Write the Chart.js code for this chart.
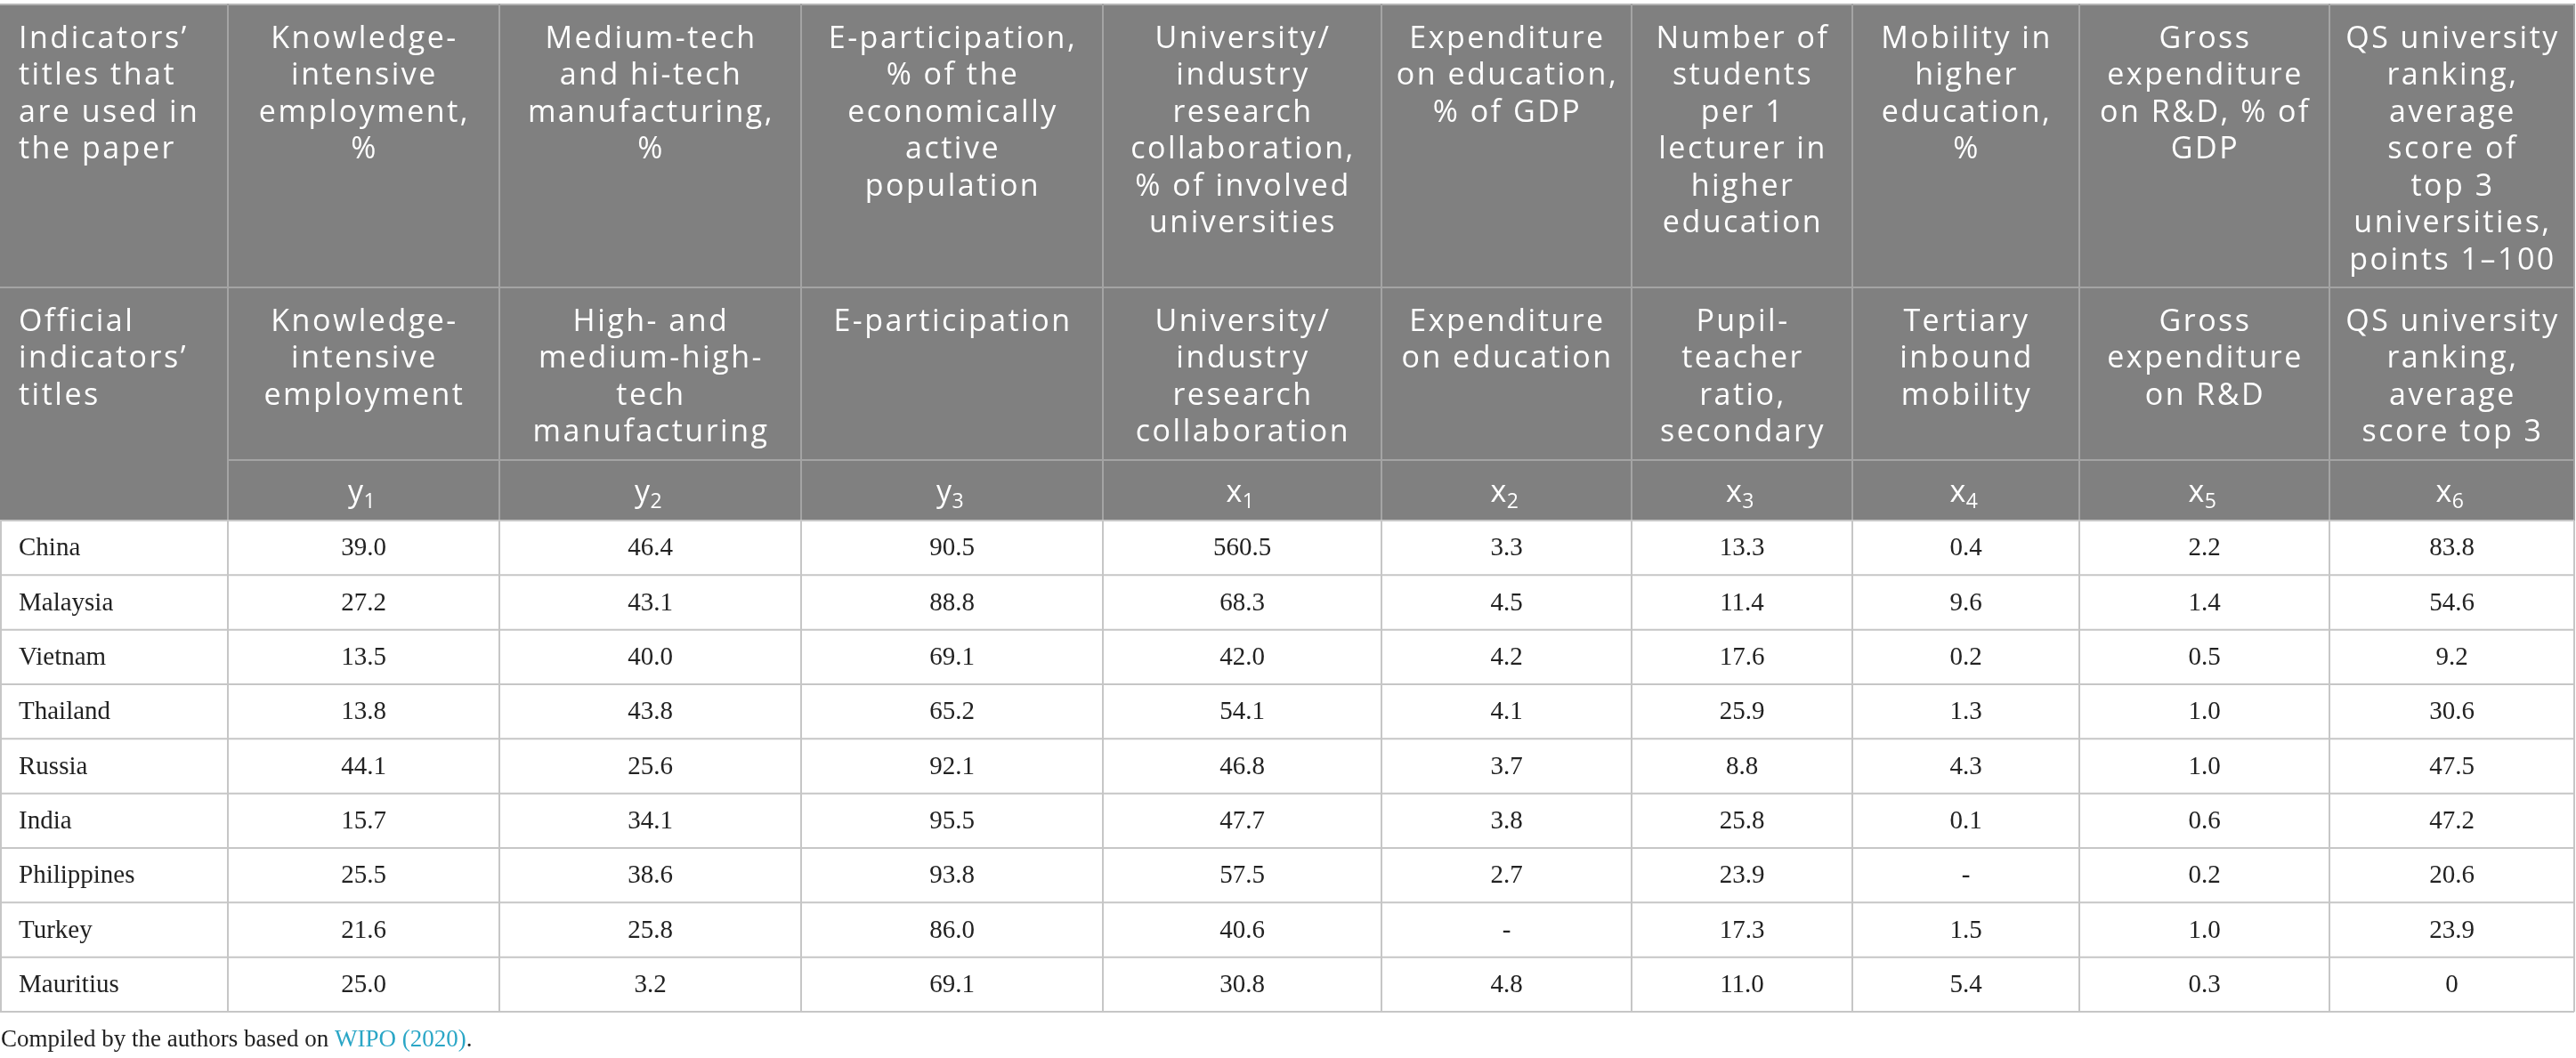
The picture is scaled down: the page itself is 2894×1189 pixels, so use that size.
<!DOCTYPE html>
<html>
<head>
<meta charset="utf-8">
<script src="https://cdn.jsdelivr.net/npm/chart.js@4.4.1/dist/chart.umd.min.js"></script>
<style>
  html, body { margin: 0; padding: 0; background: #fff; }
  canvas { display: block; }
</style>
</head>
<body>
<canvas id="tableChart" width="2894" height="1189"></canvas>
<script>
// Countries (rows of the table)
var countries = ["China", "Malaysia", "Vietnam", "Thailand", "Russia", "India", "Philippines", "Turkey", "Mauritius"];

// Indicator values per column, null = no data ("-")
var y1 = [39.0, 27.2, 13.5, 13.8, 44.1, 15.7, 25.5, 21.6, 25.0];
var y2 = [46.4, 43.1, 40.0, 43.8, 25.6, 34.1, 38.6, 25.8, 3.2];
var y3 = [90.5, 88.8, 69.1, 65.2, 92.1, 95.5, 93.8, 86.0, 69.1];
var x1 = [560.5, 68.3, 42.0, 54.1, 46.8, 47.7, 57.5, 40.6, 30.8];
var x2 = [3.3, 4.5, 4.2, 4.1, 3.7, 3.8, 2.7, null, 4.8];
var x3 = [13.3, 11.4, 17.6, 25.9, 8.8, 25.8, 23.9, 17.3, 11.0];
var x4 = [0.4, 9.6, 0.2, 1.3, 4.3, 0.1, null, 1.5, 5.4];
var x5 = [2.2, 1.4, 0.5, 1.0, 1.0, 0.6, 0.2, 1.0, 0.3];
var x6 = [83.8, 54.6, 9.2, 30.6, 47.5, 47.2, 20.6, 23.9, 0];

// Column symbols (letter + subscript)
var symbols = [["y", "1"], ["y", "2"], ["y", "3"], ["x", "1"], ["x", "2"], ["x", "3"], ["x", "4"], ["x", "5"], ["x", "6"]];

// Header texts, one array of lines per cell
var paperTitles = [
    ["Indicators\u2019", "titles that", "are used in", "the paper"],
    ["Knowledge-", "intensive", "employment,", "%"],
    ["Medium-tech", "and hi-tech", "manufacturing,", "%"],
    ["E-participation,", "% of the", "economically", "active", "population"],
    ["University/", "industry", "research", "collaboration,", "% of involved", "universities"],
    ["Expenditure", "on education,", "% of GDP"],
    ["Number of", "students", "per 1", "lecturer in", "higher", "education"],
    ["Mobility in", "higher", "education,", "%"],
    ["Gross", "expenditure", "on R&D, % of", "GDP"],
    ["QS university", "ranking,", "average", "score of", "top 3", "universities,", "points 1\u2013100"]
];
var officialTitles = [
    ["Official", "indicators\u2019", "titles"],
    ["Knowledge-", "intensive", "employment"],
    ["High- and", "medium-high-", "tech", "manufacturing"],
    ["E-participation"],
    ["University/", "industry", "research", "collaboration"],
    ["Expenditure", "on education"],
    ["Pupil-", "teacher", "ratio,", "secondary"],
    ["Tertiary", "inbound", "mobility"],
    ["Gross", "expenditure", "on R&D"],
    ["QS university", "ranking,", "average", "score top 3"]
];

var series = [y1, y2, y3, x1, x2, x3, x4, x5, x6];

// Layout: widths of the value columns (first column is the y axis)
var colWidths = [305, 339, 339, 313, 281, 248, 255, 281, 275];
var colEdges = [0];
colWidths.forEach(function (w, i) { colEdges.push(colEdges[i] + w); });

var headGray = "#808080";
var headLine = "#a4a4a4";
var bodyLine = "#c6c6c6";
var textDark = "#222222";
var headFont = '34px "Open Sans"';
var subFont = '23px "Open Sans"';
var bodyFont = '29px "Liberation Serif"';

function fmt(v) {
    if (v === null) return "-";
    if (v === 0) return "0";
    return v.toFixed(1);
}

var datasets = series.map(function (vals, c) {
    return {
        label: symbols[c].join(""),
        data: vals.map(function (v, r) {
            return { x: (colEdges[c] + colEdges[c + 1]) / 2, y: countries[r], v: v };
        }),
        pointRadius: 0,
        pointHoverRadius: 0,
        showLine: false
    };
});

// Plugin that draws the header, grid lines, cell values and the note
var tablePlugin = {
    id: "tablePlugin",
    beforeDraw: function (chart) {
        var ctx = chart.ctx;
        ctx.save();
        ctx.fillStyle = "#ffffff";
        ctx.fillRect(0, 0, chart.width, chart.height);
        ctx.restore();
    },
    afterDatasetsDraw: function (chart) {
        var ctx = chart.ctx;
        var xs = chart.scales.x;
        var ys = chart.scales.y;
        var area = chart.chartArea;
        var right = area.right;
        var headTop = 4, row1Bottom = 323, row2Bottom = 517, headBottom = area.top;
        var edgesPx = [area.left].concat(colEdges.slice(1).map(function (e) { return xs.getPixelForValue(e); }));
        var allEdges = [1].concat(edgesPx);

        ctx.save();
        // header background
        ctx.fillStyle = headGray;
        ctx.fillRect(0, headTop, right, headBottom - headTop);

        // header lines
        ctx.lineWidth = 2;
        ctx.strokeStyle = "#b4b4b4";
        ctx.beginPath();
        ctx.moveTo(0, headTop + 1); ctx.lineTo(right, headTop + 1);
        ctx.stroke();
        ctx.strokeStyle = headLine;
        ctx.beginPath();
        edgesPx.forEach(function (x) { ctx.moveTo(x, headTop); ctx.lineTo(x, headBottom); });
        ctx.moveTo(0, row1Bottom); ctx.lineTo(right, row1Bottom);
        ctx.moveTo(area.left, row2Bottom); ctx.lineTo(right, row2Bottom);
        ctx.stroke();

        // body lines
        ctx.strokeStyle = bodyLine;
        ctx.beginPath();
        for (var r = 0; r <= countries.length; r++) {
            var yy = ys.getPixelForValue(r - 0.5);
            ctx.moveTo(0, yy); ctx.lineTo(right, yy);
        }
        allEdges.forEach(function (x) { ctx.moveTo(x, headBottom); ctx.lineTo(x, area.bottom); });
        ctx.stroke();

        // header texts
        ctx.fillStyle = "#ffffff";
        ctx.font = headFont;
        if ("letterSpacing" in ctx) ctx.letterSpacing = "2.5px";
        ctx.textBaseline = "alphabetic";
        var pitch = 41.5;
        function drawLines(lines, c, baseY) {
            lines.forEach(function (t, i) {
                if (c === 0) {
                    ctx.textAlign = "left";
                    ctx.fillText(t, 21, baseY + i * pitch);
                } else {
                    ctx.textAlign = "center";
                    ctx.fillText(t, (edgesPx[c - 1] + edgesPx[c]) / 2 + 1, baseY + i * pitch);
                }
            });
        }
        paperTitles.forEach(function (lines, c) { drawLines(lines, c, 53.5); });
        officialTitles.forEach(function (lines, c) { drawLines(lines, c, 371.5); });

        // symbols with subscripts
        symbols.forEach(function (s, c) {
            var cx = (edgesPx[c] + edgesPx[c + 1]) / 2;
            ctx.font = headFont;
            var w1 = ctx.measureText(s[0]).width;
            ctx.font = subFont;
            var w2 = ctx.measureText(s[1]).width;
            var x0 = cx - (w1 + w2) / 2;
            ctx.textAlign = "left";
            ctx.font = headFont;
            ctx.fillText(s[0], x0, 564);
            ctx.font = subFont;
            ctx.fillText(s[1], x0 + w1 - 2, 571);
        });
        if ("letterSpacing" in ctx) ctx.letterSpacing = "0px";

        // cell values
        ctx.font = bodyFont;
        ctx.fillStyle = textDark;
        ctx.textAlign = "center";
        ctx.textBaseline = "middle";
        chart.data.datasets.forEach(function (ds, c) {
            var meta = chart.getDatasetMeta(c);
            meta.data.forEach(function (pt, r) {
                ctx.fillText(fmt(ds.data[r].v), pt.x, pt.y + 1);
            });
        });

        // source note
        ctx.textAlign = "left";
        ctx.textBaseline = "alphabetic";
        ctx.font = '27px "Liberation Serif"';
        var noteY = 1176;
        var part1 = "Compiled by the authors based on ";
        var part2 = "WIPO (2020)";
        ctx.fillStyle = textDark;
        ctx.fillText(part1, 1, noteY);
        var w = ctx.measureText(part1).width;
        ctx.fillStyle = "#2aa6c6";
        ctx.fillText(part2, 1 + w, noteY);
        w += ctx.measureText(part2).width;
        ctx.fillStyle = textDark;
        ctx.fillText(".", 1 + w, noteY);
        ctx.restore();
    }
};

var tableCanvas = document.getElementById("tableChart").getContext("2d");

var tableChart = new Chart(tableCanvas, {
    type: "scatter",
    data: { labels: countries, datasets: datasets },
    options: {
        responsive: false,
        devicePixelRatio: 1,
        animation: false,
        events: [],
        layout: { padding: { top: 585, bottom: 52, left: 21, right: 2 } },
        scales: {
            x: {
                type: "linear",
                min: 0,
                max: colEdges[colEdges.length - 1],
                display: false
            },
            y: {
                type: "category",
                labels: countries,
                offset: true,
                afterFit: function (scale) { scale.width = 235; },
                grid: { display: false },
                border: { display: false },
                ticks: {
                    crossAlign: "far",
                    autoSkip: false,
                    labelOffset: 1,
                    color: textDark,
                    font: { family: "Liberation Serif", size: 29 }
                }
            }
        },
        plugins: {
            legend: { display: false },
            tooltip: { enabled: false }
        }
    },
    plugins: [tablePlugin]
});
</script>
</body>
</html>
